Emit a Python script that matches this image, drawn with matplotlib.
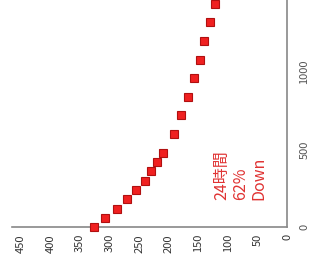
import matplotlib.pyplot as plt

plt.rcParams['font.family'] = ['Noto Sans CJK JP', 'DejaVu Sans']

# minutes since start vs. value (chart is shown rotated 90 deg)
minutes = [0, 60, 120, 180, 240, 300, 360, 420, 480,
           600, 720, 840, 960, 1080, 1200, 1320, 1440]
values = [326, 307, 288, 270, 255, 241, 230, 220, 209,
          192, 180, 168, 157, 148, 140, 130, 121]
value_ticks = [0, 50, 100, 150, 200, 250, 300, 350, 400, 450]
minute_ticks = [0, 500, 1000]

fig = plt.figure(figsize=(3.09, 2.72), dpi=100)
ax = fig.add_axes([0.039, 0.165, 0.89, 0.835])

ax.plot(values, minutes, linestyle='none', marker='s', markersize=6,
        markerfacecolor='#f02020', markeredgecolor='#b01010', markeredgewidth=0.8,
        clip_on=False, zorder=3)

ax.set_xlim(465, 0)
ax.set_ylim(0, 1465)
ax.set_xticks(value_ticks)
ax.set_yticks(minute_ticks)
ax.yaxis.tick_right()
ax.tick_params(axis='x', labelrotation=90, labelsize=8, colors='#333333',
               length=0, pad=5)
ax.tick_params(axis='y', labelrotation=90, labelsize=8, colors='#555555',
               length=0, pad=9)
for lab in ax.get_yticklabels():
    lab.set_verticalalignment('center')

for side in ['left', 'top']:
    ax.spines[side].set_visible(False)
for side in ['right', 'bottom']:
    ax.spines[side].set_color('#888888')
    ax.spines[side].set_linewidth(1.2)

ax.text(124, 174, '24時間\n62%\nDown', rotation=90, rotation_mode='anchor',
        ha='left', va='top', color='#e03333', fontsize=11.5, linespacing=1.1)

fig.savefig('out.png', dpi=100)
